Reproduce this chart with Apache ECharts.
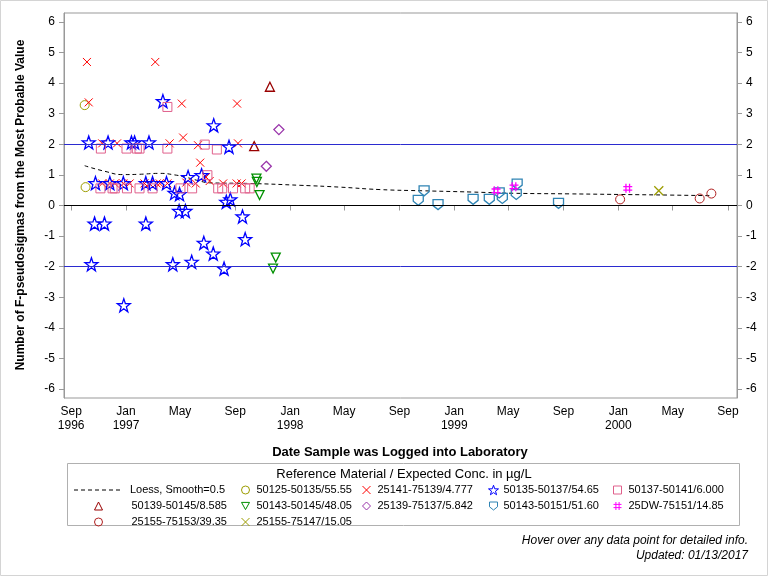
<!DOCTYPE html>
<html><head><meta charset="utf-8">
<script src="https://cdn.jsdelivr.net/npm/echarts@6/dist/echarts.min.js"></script>
<style>html,body{margin:0;padding:0;background:#fff}#c{width:768px;height:576px}</style>
</head><body><div id="c"></div>
<script>
const FONT = "'Liberation Sans',Arial,sans-serif";

// ---- tick labels ----
const xTickDates = ['1996-09-01','1997-01-01','1997-05-01','1997-09-01','1998-01-01','1998-05-01','1998-09-01','1999-01-01','1999-05-01','1999-09-01','2000-01-01','2000-05-01','2000-09-01'];
const xTickLabels = ['Sep\n1996','Jan\n1997','May','Sep','Jan\n1998','May','Sep','Jan\n1999','May','Sep','Jan\n2000','May','Sep'];
const yTicks = [-6,-5,-4,-3,-2,-1,0,1,2,3,4,5,6];

// ---- data ----
const loessDates = ['1996-10-01','1996-11-14','1996-12-25','1997-01-31','1997-03-17','1997-04-19','1997-05-15','1997-06-14','1997-07-06','1997-10-03','1998-01-23','1998-04-22','1998-07-20','1998-10-25','1999-02-09','1999-05-12','1999-09-16','2000-01-05','2000-04-27','2000-07-26'];
const loessValues = [1.30,1.12,1.01,1.02,1.05,1.00,0.92,0.80,0.74,0.72,0.66,0.60,0.52,0.48,0.44,0.40,0.38,0.36,0.34,0.32];

const s50125Dates = ['1996-10-01','1996-10-03'];
const s50125Values = [3.28,0.60];

const s25141Dates = ['1996-10-06','1996-10-10','1997-03-07','1997-05-05','1997-09-05','1996-11-09','1996-12-12','1997-04-08','1997-05-08','1997-06-10','1997-09-07','1997-06-15','1997-06-28','1997-07-06',
  '1996-11-09','1996-11-26','1996-12-07','1996-12-26','1997-01-09','1997-02-11','1997-02-22','1997-03-10','1997-03-17','1997-04-03','1997-05-15','1997-06-05','1997-08-05','1997-09-04','1997-09-15'];
const s25141Values = [4.69,3.37,4.69,3.33,3.33,2.03,2.03,2.03,2.22,1.97,2.03,1.40,0.93,0.80,
  0.72,0.72,0.72,0.72,0.72,0.72,0.72,0.72,0.72,0.72,0.75,0.72,0.72,0.72,0.72];

const s50135Dates = ['1996-10-10','1996-11-22','1997-01-13','1997-01-20','1997-02-21','1997-03-24','1997-07-15','1997-08-18',
  '1996-10-25','1996-11-26','1996-12-26','1997-02-14','1997-03-01','1997-04-01','1997-05-19','1997-06-18',
  '1997-04-19','1997-04-30','1997-08-12','1997-08-21','1997-04-29','1997-05-13','1997-09-17',
  '1996-10-23','1996-11-14','1997-02-14','1997-09-23','1997-06-23','1997-07-14','1996-10-16','1997-04-15','1997-05-27','1997-08-07','1996-12-27'];
const s50135Values = [2.06,2.06,2.06,2.06,2.06,3.41,2.62,1.92,
  0.73,0.73,0.73,0.73,0.73,0.73,0.93,0.99,
  0.41,0.37,0.12,0.20,-0.18,-0.18,-0.36,
  -0.59,-0.59,-0.59,-1.10,-1.22,-1.57,-1.92,-1.92,-1.84,-2.06,-3.26];

const s50137Dates = ['1997-04-03','1996-11-06','1997-01-02','1997-01-25','1997-01-31','1997-04-03','1997-06-25','1997-07-22',
  '1996-11-05','1996-12-02','1996-12-07','1997-01-03','1997-01-31','1997-03-01','1997-05-02','1997-05-28','1997-07-25','1997-08-03','1997-08-27','1997-09-23','1997-10-03','1997-07-01'];
const s50137Values = [3.22,1.86,1.86,1.86,1.86,1.86,1.99,1.83,
  0.56,0.56,0.56,0.56,0.56,0.56,0.56,0.56,0.56,0.56,0.56,0.56,0.56,0.99];

const s50139Dates = ['1997-11-17','1997-10-13'];
const s50139Values = [3.88,1.94];

const s50143aDates = ['1997-10-18','1997-10-19','1997-10-25','1997-11-30','1997-11-24'];
const s50143aValues = [0.88,0.77,0.34,-1.70,-2.06];

const s25139Dates = ['1997-12-07','1997-11-09'];
const s25139Values = [2.48,1.28];

const s50143bDates = ['1998-10-26','1998-10-13','1998-11-26','1999-02-12','1999-03-20','1999-04-11','1999-04-18','1999-05-19','1999-05-21','1999-08-21'];
const s50143bValues = [0.48,0.17,0.03,0.20,0.20,0.41,0.23,0.36,0.70,0.07];

const s25DWDates = ['1999-04-04','1999-05-14','2000-01-22'];
const s25DWValues = [0.48,0.61,0.56];

const s25155aDates = ['2000-01-05','2000-06-30','2000-07-26'];
const s25155aValues = [0.20,0.23,0.39];

const s25155bDates = ['2000-03-31'];
const s25155bValues = [0.48];

// ---- helpers ----
const pd = s => echarts.number.parseDate(s).getTime();
const xTickTimes = xTickDates.map(pd);
const pts = (d, v) => d.map((s, i) => [pd(s), v[i]]);

const STAR = 'path://M50,0L61.76,33.82L97.55,34.55L69.02,56.18L79.39,90.45L50,70L20.61,90.45L30.98,56.18L2.45,34.55L38.24,33.82Z';
const XS = 'path://M0,0L10,10M10,0L0,10';
const HASH = 'path://M3,0L3,10M7,0L7,10M0,3L10,3M0,7L10,7';
const TRIDOWN = 'path://M0,0L10,0L5,9Z';
const PLATE = 'path://M0,0L10,0L10,6L5,10L0,6Z';
const DASHES = 'path://M0,0L4,0L4,1L0,1ZM7,0L11,0L11,1L7,1ZM14,0L18,0L18,1L14,1ZM21,0L25,0L25,1L21,1ZM28,0L32,0L32,1L28,1ZM35,0L39,0L39,1L35,1ZM42,0L46,0L46,1L42,1Z';

function sc(name, d, v, symbol, size, color, bw) {
  return {
    name, type: 'scatter', data: pts(d, v), symbol, symbolSize: size,
    itemStyle: { color: 'rgba(255,255,255,0)', borderColor: color, borderWidth: bw || 1, opacity: 1 },
    emphasis: { disabled: true }, z: 3
  };
}

const N = {
  loess: 'Loess, Smooth=0.5',
  a: '50125-50135/55.55', b: '25141-75139/4.777', c: '50135-50137/54.65', d: '50137-50141/6.000',
  e: '50139-50145/8.585', f: '50143-50145/48.05', g: '25139-75137/5.842', h: '50143-50151/51.60', i: '25DW-75151/14.85',
  j: '25155-75153/39.35', k: '25155-75147/15.05'
};

const series = [
  {
    name: N.loess, type: 'line', data: pts(loessDates, loessValues), symbol: 'none', smooth: true,
    lineStyle: { color: '#000', width: 1, type: [4, 3] }, itemStyle: { color: '#000' }, color: '#000', z: 2,
    emphasis: { disabled: true },
    markLine: {
      silent: true, symbol: 'none', label: { show: false }, animation: false,
      data: [
        { yAxis: 2, lineStyle: { color: '#2b2bd0', width: 1, type: 'solid' } },
        { yAxis: -2, lineStyle: { color: '#2b2bd0', width: 1, type: 'solid' } },
        { yAxis: 0, lineStyle: { color: '#000', width: 1, type: 'solid' } }
      ]
    }
  },
  sc(N.a, s50125Dates, s50125Values, 'circle', 9, '#9c9c00'),
  sc(N.b, s25141Dates, s25141Values, XS, 8, '#ff0000'),
  sc(N.c, s50135Dates, s50135Values, STAR, 13, '#0000ff', 1.3),
  sc(N.d, s50137Dates, s50137Values, 'rect', 9, '#e0608c'),
  sc(N.e, s50139Dates, s50139Values, 'triangle', 9, '#990000', 1.3),
  sc(N.f, s50143aDates, s50143aValues, TRIDOWN, 9, '#009000', 1.3),
  sc(N.g, s25139Dates, s25139Values, 'diamond', 10, '#9933aa', 1.3),
  sc(N.h, s50143bDates, s50143bValues, PLATE, 10, '#2f84b4', 1.3),
  sc(N.i, s25DWDates, s25DWValues, HASH, 9, '#ff00ff', 1.3),
  sc(N.j, s25155aDates, s25155aValues, 'circle', 9, '#b02020'),
  sc(N.k, s25155bDates, s25155bValues, XS, 9, '#9c9c00', 1.3)
];

function leg(name, left, cy, iw, ih, pad, icon) {
  const l = {
    data: [icon ? { name, icon } : name], left, top: cy - 6, orient: 'horizontal', padding: 0, itemGap: 0,
    itemWidth: iw, itemHeight: ih, selectedMode: false,
    textStyle: { fontFamily: FONT, fontSize: 11, color: '#000', padding: [0, 0, 0, pad], lineHeight: 12 }
  };
  if (!icon) l.itemStyle = { borderWidth: 1 };
  return l;
}
const R1 = 490, R2 = 506, R3 = 522;
const legends = [
  leg(N.loess, 74, R1, 48, 1, 4, DASHES),
  leg(N.a, 241, R1, 8, 8, 2), leg(N.b, 362, R1, 8, 8, 2), leg(N.c, 488, R1, 10, 10, 0), leg(N.d, 613, R1, 8, 8, 2),
  leg(N.e, 94, R2, 8, 8, 24), leg(N.f, 241, R2, 8, 8, 2), leg(N.g, 362, R2, 8, 8, 2), leg(N.h, 489, R2, 8, 8, 1), leg(N.i, 613, R2, 8, 8, 2),
  leg(N.j, 94, R3, 8, 8, 24), leg(N.k, 241, R3, 8, 8, 2)
];

const yAxisBase = {
  type: 'value', min: -6.29, max: 6.29,
  axisLine: { show: true, lineStyle: { color: '#999' } },
  axisTick: { show: true, length: 5, lineStyle: { color: '#999' }, customValues: yTicks },
  axisLabel: { color: '#000', fontFamily: FONT, fontSize: 12, margin: 9, customValues: yTicks },
  splitLine: { show: false }
};

const option = {
  animation: false,
  backgroundColor: '#fff',
  textStyle: { fontFamily: FONT },
  grid: { left: 64, right: 31, top: 13, bottom: 178, show: true, borderColor: '#999', borderWidth: 1 },
  xAxis: {
    type: 'value', min: pd('1996-08-16'), max: pd('2000-09-21'),
    axisLine: { show: true, lineStyle: { color: '#999' } },
    axisTick: { show: true, length: 5, lineStyle: { color: '#999' }, customValues: xTickTimes },
    axisLabel: {
      color: '#000', fontFamily: FONT, fontSize: 12, lineHeight: 14, margin: 7, hideOverlap: false,
      customValues: xTickTimes,
      formatter: function (val) {
        const i = xTickTimes.findIndex(x => Math.abs(x - val) < 86400000);
        return i >= 0 ? xTickLabels[i] : '';
      }
    },
    splitLine: { show: false }
  },
  yAxis: [
    Object.assign({}, yAxisBase, { position: 'left' }),
    Object.assign({}, yAxisBase, { position: 'right' })
  ],
  legend: legends,
  series,
  graphic: [
    { type: 'rect', shape: { x: 0.5, y: 0.5, width: 767, height: 575 }, style: { fill: 'none', stroke: '#d4d4d4', lineWidth: 1 }, silent: true },
    { type: 'rect', shape: { x: 67.5, y: 463.5, width: 672, height: 62 }, style: { fill: 'none', stroke: '#b0b0b0', lineWidth: 1 }, silent: true },
    { type: 'text', x: 404, y: 474, style: { text: 'Reference Material / Expected Conc. in µg/L', fontFamily: FONT, fontSize: 13, fill: '#000', align: 'center', verticalAlign: 'middle' } },
    { type: 'text', x: 400, y: 452, style: { text: 'Date Sample was Logged into Laboratory', fontFamily: FONT, fontSize: 13, fontWeight: 'bold', fill: '#000', align: 'center', verticalAlign: 'middle' } },
    { type: 'text', x: 21, y: 205, rotation: Math.PI / 2, style: { text: 'Number of F-pseudosigmas from the Most Probable Value', fontFamily: FONT, fontSize: 12, fontWeight: 'bold', fill: '#000', align: 'center', verticalAlign: 'middle' } },
    { type: 'text', x: 748, y: 541, style: { text: 'Hover over any data point for detailed info.', fontFamily: FONT, fontSize: 12, fontStyle: 'italic', fill: '#000', align: 'right', verticalAlign: 'middle' } },
    { type: 'text', x: 748, y: 556, style: { text: 'Updated: 01/13/2017', fontFamily: FONT, fontSize: 12, fontStyle: 'italic', fill: '#000', align: 'right', verticalAlign: 'middle' } }
  ]
};

const chart = echarts.init(document.getElementById('c'), null, { renderer: 'canvas' });
chart.setOption(option);
</script>
</body></html>
